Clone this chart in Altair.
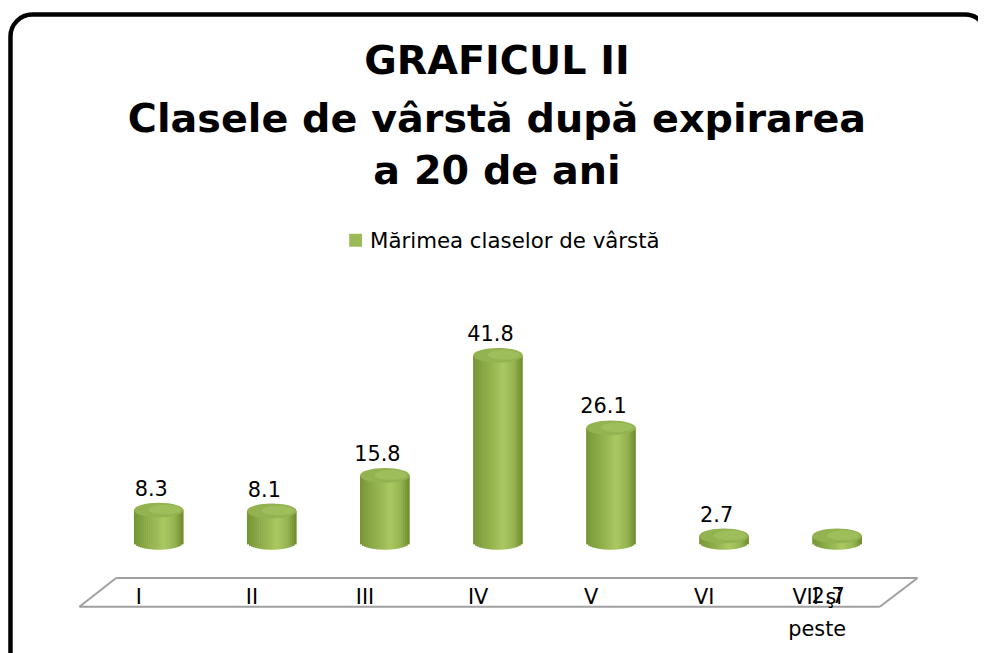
import altair as alt
import pandas as pd

# ---------------- data ----------------
categories = ["I", "II", "III", "IV", "V", "VI", "VII şi peste"]
tick_labels = ["I", "II", "III", "IV", "V", "VI", "VII şi\npeste"]
values = [8.3, 8.1, 15.8, 41.8, 26.1, 2.7, 2.7]
series_name = "Mărimea claselor de vârstă"
title_lines = ["GRAFICUL II", "Clasele de vârstă după expirarea", "a 20 de ani"]

# ---------------- layout / style ----------------
W, H = 978, 645
first_center = 148.5      # px of first category centre
step = 115.17             # px between categories
zero_px = 542.2           # px of value 0
px_per_unit = 4.657
n_strips = 24
strip_px = 50.0 / n_strips  # width of one shading strip of a cylinder
rx, ry = 25.0, 7.5        # ellipse radii (px) of the cylinder caps
lift = 6.2                # px the cylinder base sits above the value-0 line

x_dom = [-first_center / step, (W - first_center) / step]
y_dom = [-(H - zero_px) / px_per_unit, zero_px / px_per_unit]

FONT = "DejaVu Sans"
GREEN = "#9bbb59"
shade_pos = [0, 0.3, 0.62, 0.85, 1]
shade_colors = ["#769535", "#90af4b", "#aac963", "#95b450", "#728f31"]
TOP = "#93b250"
TOP_HI = "#a8c765"

df = pd.DataFrame({
    "idx": list(range(len(categories))),
    "cls": categories,
    "tick": tick_labels,
    "val": values,
})

one = alt.Data(values=[{"a": 1}])

xs = alt.Scale(domain=x_dom, nice=False, zero=False)
ys = alt.Scale(domain=y_dom, nice=False, zero=False)
xenc = alt.X("idx:Q", scale=xs, axis=None)
yenc = alt.Y("val:Q", scale=ys, axis=None)

ELLIPSE = ("M -1 0 C -1 -0.166 -0.552 -0.3 0 -0.3 C 0.552 -0.3 1 -0.166 1 0 "
           "C 1 0.166 0.552 0.3 0 0.3 C -0.552 0.3 -1 0.166 -1 0 Z")
ELL_SIZE = (2 * rx) ** 2

base = alt.Chart(df)

frame = alt.Chart(one).mark_rect(
    fillOpacity=0, stroke="black", strokeWidth=4.5, cornerRadius=22
).encode(x=alt.value(2.5), x2=alt.value(987), y=alt.value(4), y2=alt.value(680))

floor_color = "#a0a0a0"
def rule(x1, y1, x2, y2):
    return alt.Chart(one).mark_rule(color=floor_color, strokeWidth=2).encode(
        x=alt.value(x1), y=alt.value(y1), x2=alt.value(x2), y2=alt.value(y2))

floor = (rule(109, 572, 917, 572) + rule(917, 572, 879, 601) +
         rule(879, 601, 72, 601) + rule(72, 601, 109, 572))

# cylinder body: vertical shading strips, each ending on the lower half of the base ellipse
strip_list = "[" + ",".join(str(i) for i in range(n_strips)) + "]"
body = base.transform_calculate(
    s=strip_list
).transform_flatten(["s"]).transform_calculate(
    dxp=f"(datum.s - {(n_strips - 1) / 2}) * {strip_px}",
    sf=f"datum.s / {n_strips - 1}",
).transform_calculate(
    sx=f"datum.idx + datum.dxp / {step}",
    bot=f"({lift} - {ry} * sqrt(max(0, 1 - pow(datum.dxp / {rx}, 2)))) / {px_per_unit}",
).mark_bar(width=strip_px + 0.6, opacity=1).encode(
    x=alt.X("sx:Q", scale=xs, axis=None),
    y=yenc,
    y2=alt.Y2("bot:Q"),
    color=alt.Color("sf:Q", scale=alt.Scale(domain=shade_pos, range=shade_colors,
                                            interpolate="rgb"),
                    legend=None),
)

top_ell = base.mark_point(
    shape=ELLIPSE, size=ELL_SIZE, filled=True, color=TOP, opacity=1, strokeWidth=0
).encode(x=xenc, y=yenc)

top_hi = base.mark_point(
    shape=ELLIPSE, size=(1.3 * rx) ** 2, filled=True, color=TOP_HI, opacity=0.55,
    strokeWidth=0, xOffset=6, yOffset=-0.5
).encode(x=xenc, y=yenc)

labels = base.transform_filter("datum.idx < 6").mark_text(
    font=FONT, fontSize=21, color="black", dx=-7.5, dy=-14.5, baseline="alphabetic"
).encode(x=xenc, y=yenc, text=alt.Text("val:Q", format=".1f"))

last_label = base.transform_filter("datum.idx == 6").mark_text(
    font=FONT, fontSize=21, color="black", dx=-9, dy=67.4, baseline="alphabetic"
).encode(x=xenc, y=yenc, text=alt.Text("val:Q", format=".1f"))

ticks = base.mark_text(
    font=FONT, fontSize=21, color="black", dx=-20, baseline="alphabetic",
    lineBreak="\n", lineHeight=33
).encode(x=xenc, y=alt.value(598), text="tick:N")

def title_text(txt, y):
    return alt.Chart(one).mark_text(
        font=FONT, fontSize=40, fontWeight="bold", color="black",
        align="center", baseline="alphabetic", text=txt
    ).encode(x=alt.value(493), y=alt.value(y))

titles = (title_text(title_lines[0], 64) + title_text(title_lines[1], 122) +
          title_text(title_lines[2], 175))

legend_box = alt.Chart(one).mark_rect(color=GREEN).encode(
    x=alt.value(344), x2=alt.value(357), y=alt.value(225), y2=alt.value(238))
legend_text = alt.Chart(one).mark_text(
    font=FONT, fontSize=21.5, color="black", align="left", baseline="alphabetic",
    text=series_name
).encode(x=alt.value(365), y=alt.value(239.3))

chart = alt.layer(
    frame, floor, titles, legend_box, legend_text,
    body, top_ell, top_hi, labels, last_label, ticks
).properties(
    width=W, height=H, padding=0, background="white",
    autosize=alt.AutoSizeParams(type="none")
).configure_view(stroke=None)

chart.save("out.html", embed_options={"renderer": "svg", "actions": False})
